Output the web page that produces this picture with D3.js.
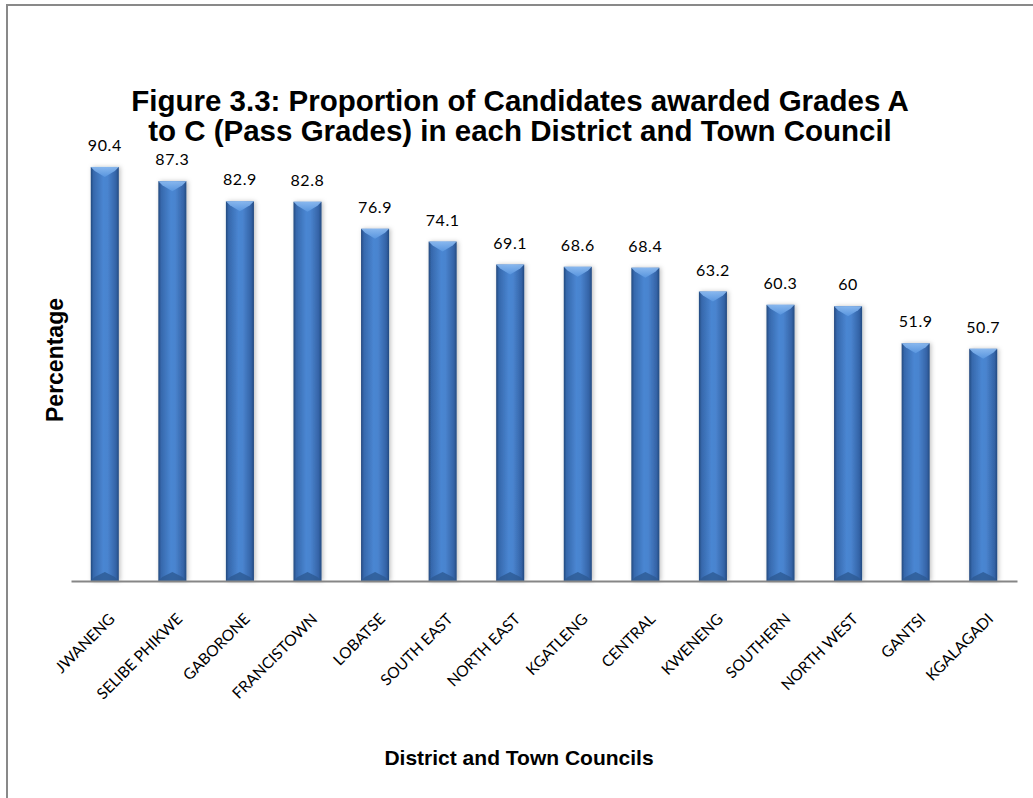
<!DOCTYPE html>
<html>
<head>
<meta charset="utf-8">
<script src="https://cdn.jsdelivr.net/npm/d3@7"></script>
<style>
  html, body { margin: 0; padding: 0; background: #fff; }
  svg { display: block; }
</style>
</head>
<body>
<svg id="chart" width="1033" height="798"></svg>
<script>
// Pass rates (grades A to C) by district and town council
const councils = ["JWANENG", "SELIBE PHIKWE", "GABORONE", "FRANCISTOWN", "LOBATSE", "SOUTH EAST",
  "NORTH EAST", "KGATLENG", "CENTRAL", "KWENENG", "SOUTHERN", "NORTH WEST", "GANTSI", "KGALAGADI"];
const passRates = [90.4, 87.3, 82.9, 82.8, 76.9, 74.1, 69.1, 68.6, 68.4, 63.2, 60.3, 60, 51.9, 50.7];

const titleLines = [
  "Figure 3.3: Proportion of Candidates awarded Grades A",
  "to C (Pass Grades) in each District and Town Council"
];
const yTitle = "Percentage";
const xTitle = "District and Town Councils";

const svg = d3.select("#chart");
const W = 1033, H = 798;
const plot = { left: 71, right: 1017, top: 123, bottom: 581 };

// outer frame (only top and left edges fall inside the view)
svg.append("rect")
  .attr("x", 7).attr("y", 5)
  .attr("width", W + 20).attr("height", H + 20)
  .attr("fill", "#fff").attr("stroke", "#898989").attr("stroke-width", 2);

const defs = svg.append("defs");
const grad = defs.append("linearGradient").attr("id", "barGrad")
  .attr("x1", "0%").attr("x2", "100%").attr("y1", "0%").attr("y2", "0%");
[["0%", "#23497e"], ["10%", "#3668ac"], ["45%", "#4a86d2"], ["60%", "#4a84cf"], ["90%", "#3463a6"], ["100%", "#234a80"]]
  .forEach(([o, c]) => grad.append("stop").attr("offset", o).attr("stop-color", c));
const capGrad = defs.append("linearGradient").attr("id", "capGrad")
  .attr("x1", "0%").attr("x2", "0%").attr("y1", "0%").attr("y2", "100%");
[["0%", "#8fbdf2"], ["100%", "#5a97e0"]]
  .forEach(([o, c]) => capGrad.append("stop").attr("offset", o).attr("stop-color", c));
const shadow = defs.append("filter").attr("id", "barShadow")
  .attr("x", "-30%").attr("y", "-10%").attr("width", "160%").attr("height", "120%");
shadow.append("feDropShadow").attr("dx", 1.5).attr("dy", 0).attr("stdDeviation", 2)
  .attr("flood-color", "#000").attr("flood-opacity", 0.25);

const x = d3.scaleBand().domain(councils).range([plot.left, plot.right]).paddingInner(0.585).paddingOuter(0.2925);
const y = d3.scaleLinear().domain([0, 100]).range([plot.bottom, plot.top]);

const data = councils.map((c, i) => ({ name: c, value: passRates[i] }));

const bars = svg.append("g").selectAll("g").data(data).join("g");
bars.append("rect")
  .attr("x", d => x(d.name)).attr("y", d => y(d.value))
  .attr("width", x.bandwidth()).attr("height", d => y(0) - y(d.value))
  .attr("fill", "url(#barGrad)").attr("filter", "url(#barShadow)");
// bevelled top cap
bars.append("path")
  .attr("d", d => {
    const x0 = x(d.name), w = x.bandwidth(), t = y(d.value), b = 4;
    return `M${x0},${t}L${x0 + w},${t}L${x0 + w - b},${t + b}L${x0 + w / 2},${t + b + 6}L${x0 + b},${t + b}Z`;
  })
  .attr("fill", "url(#capGrad)").attr("opacity", 0.9);
// subtle bevel at the base
bars.append("path")
  .attr("d", d => {
    const x0 = x(d.name), w = x.bandwidth(), b0 = y(0);
    return `M${x0},${b0}L${x0 + w},${b0}L${x0 + w - 4},${b0 - 4}L${x0 + w / 2},${b0 - 9}L${x0 + 4},${b0 - 4}Z`;
  })
  .attr("fill", "#2d5a94").attr("opacity", 0.8);

// value labels
svg.append("g").selectAll("text").data(data).join("text")
  .attr("x", d => x(d.name) + x.bandwidth() / 2)
  .attr("y", d => y(d.value) - 16)
  .attr("text-anchor", "middle")
  .attr("font-family", "Lato, 'Open Sans', sans-serif")
  .attr("font-size", 16).attr("letter-spacing", 0.6).attr("fill", "#000")
  .text(d => d.value);

// category axis
const xAxis = svg.append("g").attr("transform", `translate(0,${plot.bottom})`)
  .call(d3.axisBottom(x).tickSize(0).tickPadding(0));
xAxis.select(".domain").attr("stroke", "#868686").attr("stroke-width", 2);
xAxis.selectAll(".tick text")
  .attr("font-family", "Lato, 'Open Sans', sans-serif")
  .attr("font-size", 15.5).attr("fill", "#000")
  .attr("text-anchor", "end")
  .attr("dy", 0)
  .attr("transform", "translate(11,39) rotate(-45)");

// titles
const title = svg.append("text")
  .attr("text-anchor", "middle")
  .attr("font-family", "'Liberation Sans', Arial, sans-serif")
  .attr("font-weight", "bold").attr("font-size", 29.5).attr("fill", "#000");
titleLines.forEach((t, i) => title.append("tspan").attr("x", 520).attr("y", 111 + i * 30).text(t));

svg.append("text")
  .attr("transform", `translate(63,${360}) rotate(-90)`)
  .attr("text-anchor", "middle")
  .attr("font-family", "'Liberation Sans', Arial, sans-serif")
  .attr("font-weight", "bold").attr("font-size", 23).attr("fill", "#000")
  .text(yTitle);

svg.append("text")
  .attr("x", 519).attr("y", 765)
  .attr("text-anchor", "middle")
  .attr("font-family", "'Liberation Sans', Arial, sans-serif")
  .attr("font-weight", "bold").attr("font-size", 21).attr("fill", "#000")
  .text(xTitle);
</script>
</body>
</html>
